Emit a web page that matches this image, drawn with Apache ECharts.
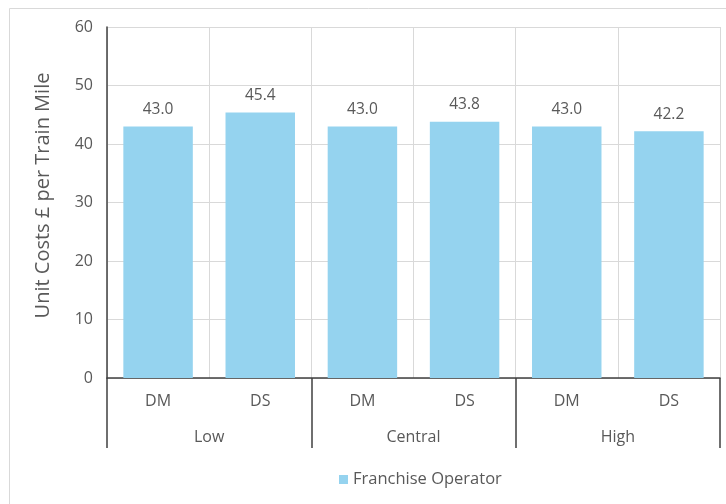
<!DOCTYPE html>
<html>
<head>
<meta charset="utf-8">
<script src="https://cdn.jsdelivr.net/npm/echarts@6/dist/echarts.min.js"></script>
<style>
  html, body { margin: 0; padding: 0; background: #fff; }
  #chart { width: 726px; height: 504px; }
</style>
</head>
<body>
<div id="chart"></div>
<script>
// Unit costs per train mile by scenario (DM / DS within Low, Central, High)
const scenarios = ['DM', 'DS', 'DM', 'DS', 'DM', 'DS'];
const groups = ['Low', 'Central', 'High'];
const franchiseOperator = [43.0, 45.4, 43.0, 43.8, 43.0, 42.2];
const yTicks = { min: 0, max: 60, step: 10 };

const textColor = '#595959';
const gridColor = '#d9d9d9';
const axisColor = '#404040';
const barColor = '#95d3ef';
const font = '"Open Sans", "Segoe UI", sans-serif';

const chart = echarts.init(document.getElementById('chart'), null, { renderer: 'canvas' });

chart.setOption({
  backgroundColor: '#fff',
  animation: false,
  textStyle: { fontFamily: font, color: textColor },
  graphic: [{
    type: 'rect',
    shape: { x: 9.5, y: 8.5, width: 740, height: 520 },
    style: { fill: 'none', stroke: gridColor, lineWidth: 1 },
    silent: true,
    z: -10
  }],
  grid: { left: 107, right: 6, top: 27, bottom: 126, containLabel: false },
  legend: {
    data: ['Franchise Operator'],
    left: 334,
    top: 466,
    icon: 'rect',
    itemWidth: 9,
    itemHeight: 9,
    itemGap: 6,
    textStyle: { fontFamily: font, color: textColor, fontSize: 16.5 }
  },
  xAxis: [
    {
      type: 'category',
      data: scenarios,
      position: 'bottom',
      axisLine: { show: true, lineStyle: { color: axisColor, width: 1.5 } },
      axisTick: { show: false },
      axisLabel: { color: textColor, fontSize: 16, fontFamily: font, margin: 15 },
      splitLine: { show: true, lineStyle: { color: gridColor, width: 1 } }
    },
    {
      type: 'category',
      data: groups,
      position: 'bottom',
      axisLine: { show: false },
      axisTick: { show: true, length: 70, lineStyle: { color: axisColor, width: 1.5 } },
      axisLabel: { color: textColor, fontSize: 16, fontFamily: font, margin: 51 },
      splitLine: { show: false }
    }
  ],
  yAxis: {
    type: 'value',
    min: yTicks.min,
    max: yTicks.max,
    interval: yTicks.step,
    name: 'Unit Costs £ per Train Mile',
    nameLocation: 'middle',
    nameGap: 54,
    nameRotate: 90,
    nameTextStyle: { color: textColor, fontSize: 20, fontFamily: font, padding: [0, 0, 0, 14] },
    axisLine: { show: true, lineStyle: { color: axisColor, width: 1.5 } },
    axisTick: { show: false },
    axisLabel: { color: textColor, fontSize: 16, fontFamily: font, margin: 14 },
    splitLine: { show: true, lineStyle: { color: gridColor, width: 1 } }
  },
  series: [{
    name: 'Franchise Operator',
    type: 'bar',
    xAxisIndex: 0,
    data: franchiseOperator,
    barCategoryGap: '32%',
    itemStyle: { color: barColor },
    label: {
      show: true,
      position: 'top',
      distance: 9,
      color: textColor,
      fontSize: 15.5,
      fontFamily: font,
      formatter: p => p.value.toFixed(1)
    }
  }]
});
</script>
</body>
</html>
